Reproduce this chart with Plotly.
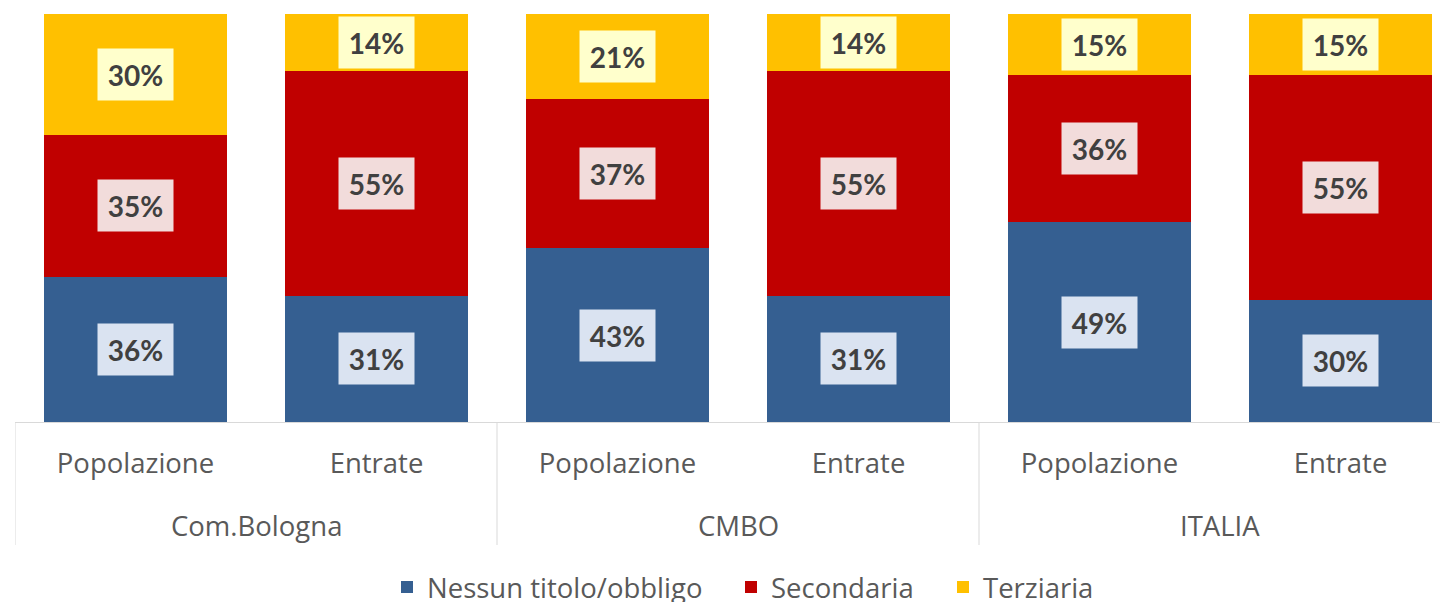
import plotly.graph_objects as go

# Categories: two bars (population vs. new entries) for each territory
groups = ["Com.Bologna", "CMBO", "ITALIA"]
subgroups = ["Popolazione", "Entrate"]
categories = ["Popolazione", "Entrate", "Popolazione", "Entrate", "Popolazione", "Entrate"]

# Share of each education level (percent)
nessun_titolo = [36, 31, 43, 31, 49, 30]
secondaria = [35, 55, 37, 55, 36, 55]
terziaria = [30, 14, 21, 14, 15, 15]

series = [
    ("Nessun titolo/obbligo", nessun_titolo, "#355F91", "#DAE3F1"),
    ("Secondaria", secondaria, "#C00000", "#F2DCDB"),
    ("Terziaria", terziaria, "#FFC000", "#FFFFCC"),
]

FONT = "Open Sans"
LABEL_FONT = "Lato"
TEXT_GREY = "#595959"
LINE_GREY = "#D9D9D9"
TEXT_SIZE = 27.5

x_pos = list(range(len(categories)))
legend_ids = ["legend", "legend2", "legend3"]
legend_left = [387, 731, 943]  # px from the left edge of the page

fig = go.Figure()
for (name, vals, color, _), lid in zip(series, legend_ids):
    fig.add_trace(go.Bar(
        x=x_pos, y=vals, name=name, legend=lid,
        marker=dict(color=color, line=dict(width=0)),
        width=0.763,
    ))

# Data labels centred in each (normalised) segment, on a light box
totals = [sum(s[1][i] for s in series) for i in range(len(categories))]
base = [0.0] * len(categories)
for name, vals, color, box in series:
    for i, v in enumerate(vals):
        h = v / totals[i] * 100
        fig.add_annotation(
            x=i, y=base[i] + h / 2, xref="x", yref="y",
            text=f"<b>{v}%</b>", showarrow=False,
            font=dict(family=LABEL_FONT, size=28, color="#404040"),
            bgcolor=box, width=75, height=51, borderpad=0,
            xanchor="center", yanchor="middle",
        )
        base[i] += h

# Group labels and dividers of the two-level category axis
PLOT_H = 408
for g, name in enumerate(groups):
    fig.add_annotation(
        x=g * 2 + 0.5, y=-(525 - 422) / PLOT_H, xref="x", yref="paper",
        text=name, showarrow=False,
        font=dict(family=FONT, size=TEXT_SIZE, color=TEXT_GREY),
        xanchor="center", yanchor="middle",
    )
for xd in [-0.5, 1.5, 3.5, 5.5]:
    fig.add_shape(
        type="line", xref="x", yref="paper",
        x0=xd, x1=xd, y0=0, y1=-(545 - 422) / PLOT_H,
        line=dict(color=LINE_GREY, width=1),
    )

legend_style = dict(
    orientation="h", xref="container", yref="container",
    y=1 - 587 / 602, xanchor="left", yanchor="middle",
    font=dict(family=FONT, size=TEXT_SIZE, color=TEXT_GREY),
    bgcolor="rgba(0,0,0,0)",
)

fig.update_layout(
    barmode="stack",
    barnorm="percent",
    width=1440, height=602,
    margin=dict(l=15, r=0, t=14, b=180),
    paper_bgcolor="white", plot_bgcolor="white",
    font=dict(family=FONT, color=TEXT_GREY),
    showlegend=True,
    legend=dict(x=legend_left[0] / 1440, **legend_style),
    legend2=dict(x=legend_left[1] / 1440, **legend_style),
    legend3=dict(x=legend_left[2] / 1440, **legend_style),
    xaxis=dict(
        range=[-0.5, -0.5 + 1425 / 241],
        tickvals=x_pos, ticktext=categories,
        tickfont=dict(family=FONT, size=TEXT_SIZE, color=TEXT_GREY),
        ticks="", ticklabelstandoff=17,
        showline=True, linecolor=LINE_GREY, linewidth=1,
        showgrid=False, zeroline=False, fixedrange=True,
    ),
    yaxis=dict(
        range=[0, 100], visible=False, showgrid=False, fixedrange=True,
    ),
)

fig.write_html("out.html")
